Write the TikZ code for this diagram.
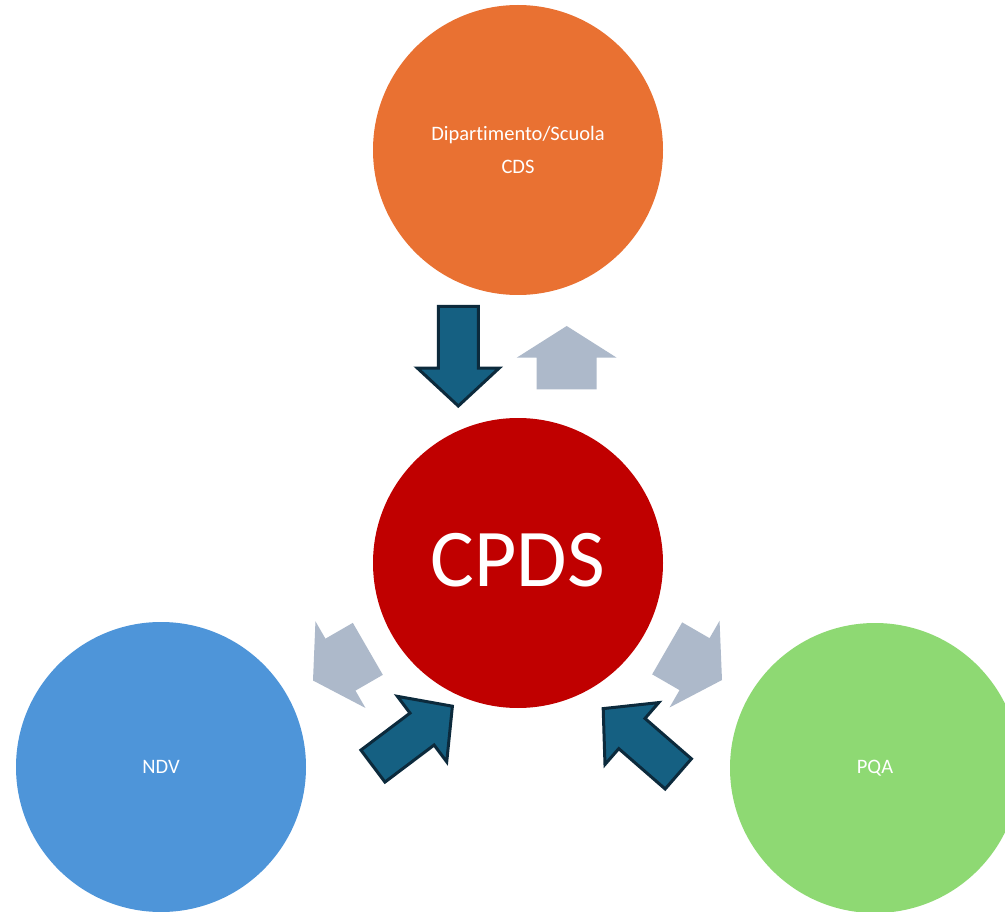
\documentclass[tikz,border=0pt]{standalone}
\usepackage{fontspec}
\setmainfont[Ligatures=NoCommon]{Carlito}
\definecolor{deptorange}{HTML}{E97132}
\definecolor{cpdsred}{HTML}{C00000}
\definecolor{ndvblue}{HTML}{4E95D9}
\definecolor{pqagreen}{HTML}{8ED973}
\definecolor{flowfill}{HTML}{156082}
\definecolor{flowline}{HTML}{0C2A3C}
\definecolor{backflow}{HTML}{ADB9CA}
\tikzset{
  body/.style={circle, inner sep=0pt, minimum size=290pt, text=white},
  smalltext/.style={font=\fontsize{20.5}{32.4}\selectfont, align=center},
  % inbound block arrow: tip at the origin, pointing along +x
  inarrow/.pic={
    \draw[fill=flowfill, draw=flowline, line width=3pt, line join=miter]
      (0,0) -- (-38,41) -- (-38,20) -- (-99.5,20) -- (-99.5,-20)
      -- (-38,-20) -- (-38,-41) -- cycle;
  },
  % feedback block arrow: tip at the origin, pointing along +x
  backarrow/.pic={
    \fill[backflow]
      (0,0) -- (-31.7,50) -- (-31.7,30) -- (-63.3,30) -- (-63.3,-30)
      -- (-31.7,-30) -- (-31.7,-50) -- cycle;
  },
}
\begin{document}
\begin{tikzpicture}[x=1pt, y=-1pt]
  \fill[white] (0,0) rectangle (1005,912);
  \useasboundingbox (0,0) rectangle (1005,912);

  \begin{scope}
    \clip (0,0) rectangle (1005,912);
    \node[body, fill=deptorange, smalltext] (dept) at (518,150)
      {Dipartimento/Scuola\\CDS};
    \node[body, fill=cpdsred, font=\fontsize{82}{90}\selectfont,
          text depth=7pt] (cpds) at (518,563) {CPDS};
    \node[body, fill=ndvblue, smalltext] (ndv) at (161,767) {NDV};
    \node[body, fill=pqagreen, smalltext] (pqa) at (875,768) {PQA};
  \end{scope}

  % flows into CPDS
  \coordinate (inTop)   at (458.3,406);
  \coordinate (inLeft)  at (452.4,706.2);
  \coordinate (inRight) at (603.2,708.6);
  \pic[rotate=-90] at (inTop)   {inarrow};
  \pic[rotate=37]  at (inLeft)  {inarrow};
  \pic[rotate=139] at (inRight) {inarrow};

  % feedback from CPDS
  \coordinate (outTop)   at (566.7,326);
  \coordinate (outLeft)  at (313,680.5);
  \coordinate (outRight) at (722,680);
  \pic[rotate=90]  at (outTop)   {backarrow};
  \pic[rotate=210] at (outLeft)  {backarrow};
  \pic[rotate=-30] at (outRight) {backarrow};
\end{tikzpicture}
\end{document}
